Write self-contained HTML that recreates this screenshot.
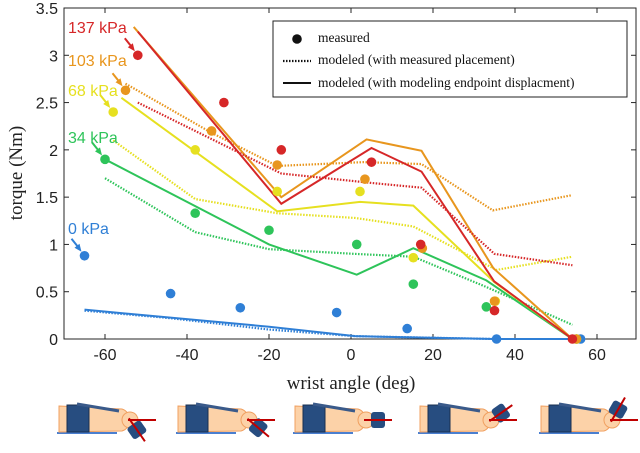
<!DOCTYPE html>
<html><head><meta charset="utf-8"><style>
body{margin:0;background:#fff;width:640px;height:453px;overflow:hidden}
svg{display:block}
text{font-family:"Liberation Sans",sans-serif}
.serif{font-family:"Liberation Serif",serif}
</style></head><body>
<svg id="chart" width="640" height="453" viewBox="0 0 640 453" xmlns="http://www.w3.org/2000/svg"></svg>
<script>
const xTicks=[-60,-40,-20,0,20,40,60];
const yTicks=[0,0.5,1,1.5,2,2.5,3,3.5];
const yTickLabels=["0","0.5","1","1.5","2","2.5","3","3.5"];
const colors=["#d62728","#e8961e","#e6e020","#2ec45a","#2f7fd6"];
const pressureLabels=["137 kPa","103 kPa","68 kPa","34 kPa","0 kPa"];
const measX=[[-52,-31,-17,5,17,35,54],[-55,-34,-18,3.4,17.4,35,55],[-58,-38,-18,2.2,15.2,35.2,55],[-60,-38,-20,1.4,15.2,33,55],[-65,-44,-27,-3.5,13.7,35.5,56]];
const measY=[[3.0,2.5,2.0,1.87,1.0,0.3,0],[2.63,2.2,1.84,1.69,0.96,0.4,0],[2.4,2.0,1.56,1.56,0.86,0.4,0],[1.9,1.33,1.15,1.0,0.58,0.34,0],[0.88,0.48,0.33,0.28,0.11,0,0]];
const solidX=[[-52,-17,5,17.2,34.9,54],[-53,-17,3.8,17.2,34.7,54],[-56,-18,2.2,15.2,35,54],[-60,-20,1.4,15.2,33,54],[-65,-20,1,35,56]];
const solidY=[[3.25,1.43,2.02,1.77,0.61,0],[3.3,1.5,2.11,1.99,0.75,0],[2.55,1.35,1.45,1.41,0.6,0],[1.9,1.0,0.68,0.96,0.62,0],[0.31,0.13,0.03,0,0]];
const dotX=[[-52,-31,-17,5,17.2,35,54],[-55,-34,-18,3,17.2,34.6,53.8],[-58,-38,-18,1,15.2,35.5,54],[-60,-38,-20,1,15.2,33,54],[-65,-44,-20,1,35]];
const dotY=[[2.5,2.05,1.75,1.65,1.6,0.9,0.78],[2.7,2.18,1.83,1.87,1.85,1.36,1.52],[2.1,1.48,1.33,1.28,1.19,0.73,0.87],[1.7,1.13,0.95,0.9,0.87,0.55,0.15],[0.3,0.22,0.1,0.03,0]];
const NS="http://www.w3.org/2000/svg";
const svg=document.getElementById('chart');
const L=64,R=636,T=8,B=339;
const xs=v=>351+4.1*v;
const ys=v=>B-(v/3.5)*(B-T);
function el(tag,attrs,parent){const e=document.createElementNS(NS,tag);for(const k in attrs)e.setAttribute(k,attrs[k]);(parent||svg).appendChild(e);return e;}
const box=el('rect',{x:L,y:T,width:R-L,height:B-T,fill:'none',stroke:'#262626','stroke-width':1});


xTicks.forEach(v=>{
  el('line',{x1:xs(v),x2:xs(v),y1:B,y2:B-5,stroke:'#262626'});
  el('line',{x1:xs(v),x2:xs(v),y1:T,y2:T+5,stroke:'#262626'});
  const t=el('text',{x:xs(v),y:B+21,'font-size':16,'text-anchor':'middle',fill:'#222'});t.textContent=v;
  
  
});
yTicks.forEach((v,i)=>{
  el('line',{x1:L,x2:L+5,y1:ys(v),y2:ys(v),stroke:'#262626'});
  el('line',{x1:R,x2:R-5,y1:ys(v),y2:ys(v),stroke:'#262626'});
  const t=el('text',{x:L-6,y:ys(v)+6,'font-size':16,'text-anchor':'end',fill:'#222'});t.textContent=yTickLabels[i];
  
  
});
const xt=el('text',{x:351,y:389,'font-size':19,'text-anchor':'middle',class:'serif',fill:'#222'});xt.textContent='wrist angle (deg)';


const yt=el('text',{x:0,y:0,'font-size':19,'text-anchor':'middle',class:'serif',fill:'#222',transform:'translate(22,173) rotate(-90)'});yt.textContent='torque (Nm)';


function pts(X,Y){return X.map((x,i)=>xs(x)+','+ys(Y[i])).join(' ');}
for(let s=4;s>=0;s--){
  const d=el('polyline',{points:pts(dotX[s],dotY[s]),fill:'none',stroke:colors[s],'stroke-width':2.2,'stroke-dasharray':'1.5 1.5'});
  
  
  const l=el('polyline',{points:pts(solidX[s],solidY[s]),fill:'none',stroke:colors[s],'stroke-width':2});
  
  
}
for(let s=4;s>=0;s--){
  measX[s].forEach((x,i)=>{
    const c=el('circle',{cx:xs(x),cy:ys(measY[s][i]),r:4.8,fill:colors[s]});
    
    
  });
}
const lblPos=[[68,33,'#d62728'],[68,66,'#e8961e'],[68,96,'#e6e020'],[68,143,'#2ec45a'],[68,234,'#2f7fd6']];
pressureLabels.forEach((p,s)=>{
  const t=el('text',{x:lblPos[s][0],y:lblPos[s][1],'font-size':16,fill:colors[s]});t.textContent=p;
  
  
  const ax=xs(measX[s][0]),ay=ys(measY[s][0]);
  el('line',{x1:ax-13,y1:ay-17,x2:ax-5,y2:ay-7,stroke:colors[s],'stroke-width':2});
  el('polygon',{points:`${ax-3},${ay-4} ${ax-10},${ay-8} ${ax-5},${ay-12}`,fill:colors[s]});
});
const lg=el('g',{});


el('rect',{x:273,y:21,width:354,height:76,fill:'#fff',stroke:'#222'},lg);
el('circle',{cx:297,cy:39,r:4.8,fill:'#111'},lg);
el('line',{x1:283,x2:311,y1:61,y2:61,stroke:'#111','stroke-width':2.2,'stroke-dasharray':'1.5 1.5'},lg);
el('line',{x1:283,x2:311,y1:83,y2:83,stroke:'#111','stroke-width':2},lg);
[['measured',42],['modeled (with measured placement)',64],['modeled (with modeling endpoint displacment)',87]].forEach(a=>{
  const t=el('text',{x:318,y:a[1],'font-size':13.5,class:'serif',fill:'#111'},lg);t.textContent=a[0];
  
  
});
const handX=[57,176,293,418,539];
const handAng=[55,40,0,-35,-60];
handX.forEach((hx,i)=>{
  const g=el('g',{transform:`translate(${hx},0)`});
  
  
  el('line',{x1:0,x2:60,y1:433,y2:433,stroke:'#4a7fd0','stroke-width':2},g);
  el('path',{d:'M2,406 L65,409 Q72,411 72,420 Q72,429 65,431 L2,432 Z',fill:'#fcd2a8',stroke:'#f0a060'},g);
  el('rect',{x:10,y:405,width:22,height:27,fill:'#274d80',stroke:'#1a3050'},g);
  const px=73,py=420,a=handAng[i];
  const hg=el('g',{transform:`rotate(${a},${px},${py})`},g);
  el('circle',{cx:px,cy:py,r:8,fill:'#fcd2a8',stroke:'#f0a060'},hg);
  el('rect',{x:px+5,y:py-8,width:14,height:16,rx:3,fill:'#274d80'},hg);
  el('line',{x1:px-2,y1:py,x2:px+26,y2:py,stroke:'#c00000','stroke-width':2},hg);
  el('line',{x1:px-2,y1:py,x2:px+26,y2:py,stroke:'#c00000','stroke-width':2,transform:`rotate(${-a},${px},${py})`},hg);
  el('path',{d:`M20,404 L62,411`,stroke:'#3a5a8a','stroke-width':3,fill:'none'},g);
});
</script>
</body></html>
